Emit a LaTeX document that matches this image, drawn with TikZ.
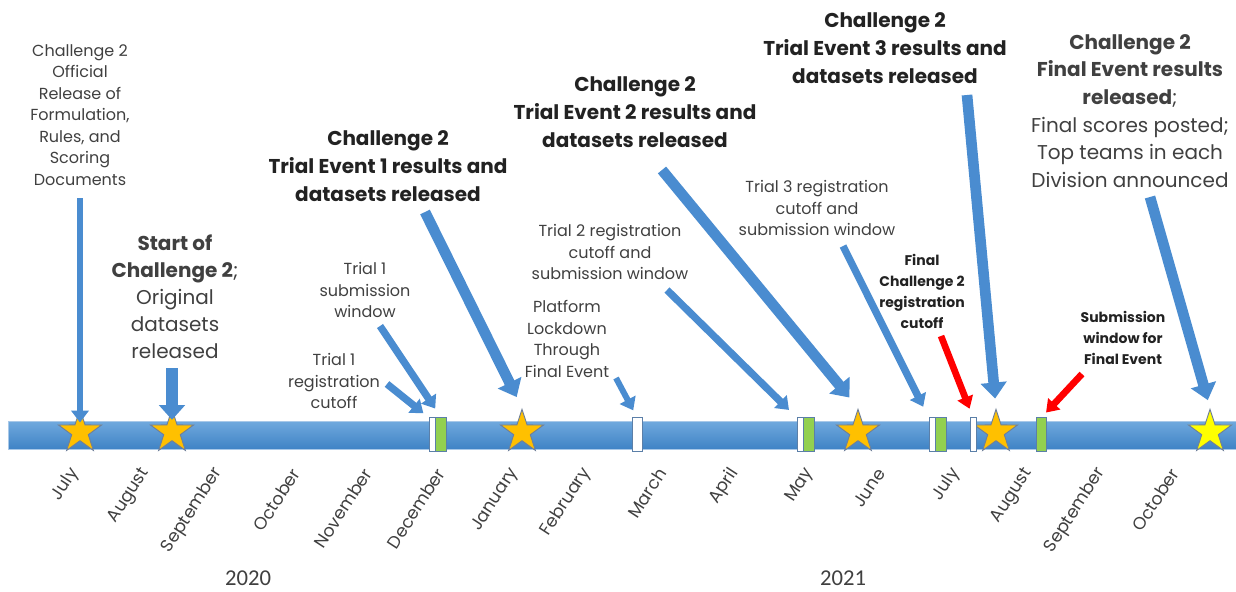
\documentclass[tikz,border=0pt]{standalone}
\usepackage{fontspec}
\setmainfont{Poppins}
\newfontfamily\yearfont{Carlito}
\usepackage{tikz}
\usetikzlibrary{arrows.meta, shapes.geometric}
\usetikzlibrary{positioning}
\definecolor{bar_top}{HTML}{70A9DE}
\definecolor{bar_bottom}{HTML}{3F83C5}
\definecolor{bar_edge}{HTML}{A8C8E8}
\definecolor{arrow_blue}{HTML}{4A8CD0}
\definecolor{arrow_red}{HTML}{FF0000}
\definecolor{star_orange}{HTML}{FFC000}
\definecolor{star_yellow}{HTML}{FFFF00}
\definecolor{star_edge}{HTML}{6E7F9A}
\definecolor{mark_green}{HTML}{92D050}
\definecolor{mark_edge}{HTML}{5B7FA8}
\definecolor{text_gray}{HTML}{404040}
\definecolor{text_dark}{HTML}{222222}
\tikzstyle{gold_star} = [
    star,
    star points=5,
    star point ratio=2.6,
    draw=star_edge,
    fill=star_orange,
    line width=0.7pt,
    inner sep=0pt,
    minimum size=34pt
]
\tikzstyle{yellow_star} = [
    gold_star,
    fill=star_yellow
]
\tikzstyle{white_mark} = [
    rectangle,
    draw=mark_edge,
    fill=white,
    line width=0.6pt,
    inner sep=0pt,
    minimum width=4.5pt,
    minimum height=25pt
]
\tikzstyle{green_mark} = [
    white_mark,
    fill=mark_green,
    minimum width=8pt
]
\tikzstyle{note} = [
    align=center,
    text=text_gray,
    inner sep=0pt,
    font=\fontsize{12}{16.1}\selectfont
]
\tikzstyle{headline} = [
    align=center,
    text=text_dark,
    inner sep=0pt,
    font=\fontsize{15}{21}\selectfont\bfseries
]
\tikzstyle{small_bold} = [
    align=center,
    text=text_dark,
    inner sep=0pt,
    font=\fontsize{10.5}{15.75}\selectfont\bfseries
]
\tikzstyle{month} = [
    text=text_gray,
    inner sep=0pt,
    anchor=east,
    rotate=57,
    font=\fontsize{13}{13}\selectfont
]
\tikzstyle{year_label} = [
    text=text_gray,
    inner sep=0pt,
    font=\yearfont\fontsize{17}{18}\selectfont
]
\tikzstyle{big_arrow} = [
    draw=arrow_blue,
    line width=8pt,
    -{Triangle[width=19pt, length=12pt]}
]
\tikzstyle{thin_arrow} = [
    draw=arrow_blue,
    line width=5.5pt,
    -{Triangle[width=13pt, length=9pt]}
]
\tikzstyle{red_arrow} = [
    draw=arrow_red,
    line width=5pt,
    -{Triangle[width=12pt, length=9pt]}
]
\begin{document}
\begin{tikzpicture}[x=0.75pt, y=-0.75pt]
\useasboundingbox (0,0) rectangle (1236,592);

% timeline bar
\shade[top color=bar_top, bottom color=bar_bottom, draw=bar_edge, line width=0.5pt]
    (8,421) rectangle (1236,449);

% stars
\node [gold_star] (s1) at (80,432) {};
\node [gold_star] (s2) at (172,432) {};
\node [gold_star] (s3) at (522,432) {};
\node [gold_star] (s4) at (858,432) {};
\node [gold_star] (s5) at (996,432) {};
\node [yellow_star] (s6) at (1210,432) {};

% registration / submission marks
\node [white_mark] (w1) at (432,434.5) {};
\node [green_mark, right=0pt of w1] (g1) {};
\node [white_mark, minimum width=7.5pt] (w3) at (637,434.5) {};
\node [white_mark] (w2) at (800,434.5) {};
\node [green_mark, right=0pt of w2] (g2) {};
\node [white_mark] (w4) at (932,434.5) {};
\node [green_mark, right=0pt of w4] (g3) {};
\node [white_mark] (w5) at (973,434.5) {};
\node [green_mark] (g4) at (1041.5,434.5) {};

% months
\foreach \m/\x [count=\i] in {July/75, August/146, September/219, October/296,
    November/368, December/441, January/515, February/587, March/662,
    April/735, May/810, June/881, July/956, August/1029, September/1102,
    October/1175}
    \node [month] (m\i) at (\x,470) {\m};

\node [year_label] (y2020) at (248,578) {2020};
\node [year_label] (y2021) at (843,578) {2021};

% event texts
\node [note] (official) at (80,115)
    {Challenge 2\\Official\\Release of\\Formulation,\\Rules, and\\Scoring\\Documents};
\node [note, font=\fontsize{15}{20.25}\selectfont] (start) at (175,297)
    {\textbf{Start of}\\\textbf{Challenge 2};\\Original\\datasets\\released};
\node [headline] (te1) at (388,166)
    {Challenge 2\\Trial Event 1 results and\\datasets released};
\node [note] (t1sub) at (365,290) {Trial 1\\submission\\window};
\node [note] (t1reg) at (334,381) {Trial 1\\registration\\cutoff};
\node [headline] (te2) at (635,112)
    {Challenge 2\\Trial Event 2 results and\\datasets released};
\node [note] (t2reg) at (610,252)
    {Trial 2 registration\\cutoff and\\submission window};
\node [note] (lock) at (567,339) {Platform\\Lockdown\\Through\\Final Event};
\node [note] (t3reg) at (817,208)
    {Trial 3 registration\\cutoff and\\submission window};
\node [headline] (te3) at (885,48)
    {Challenge 2\\Trial Event 3 results and\\datasets released};
\node [small_bold] (finreg) at (922,291)
    {Final\\Challenge 2\\registration\\cutoff};
\node [note, font=\fontsize{15}{20.7}\selectfont] (final) at (1130,111)
    {\textbf{Challenge 2}\\\textbf{Final Event results}\\\textbf{released};\\
     Final scores posted;\\Top teams in each\\Division announced};
\node [small_bold] (finsub) at (1123,338)
    {Submission\\window for\\Final Event};

% arrow tails
\coordinate (a_official) at (80,198);
\coordinate (a_start) at (172,368);
\coordinate (a_te1) at (425,212);
\coordinate (a_t1sub) at (380,326);
\coordinate (a_t1reg) at (387,384);
\coordinate (a_te2) at (662,170);
\coordinate (a_t2reg) at (667,290);
\coordinate (a_lock) at (616,378);
\coordinate (a_t3reg) at (843,246);
\coordinate (a_te3) at (967,95);
\coordinate (a_final) at (1150,197);
\coordinate (a_finreg) at (941,336);
\coordinate (a_finsub) at (1082,374);

% arrows
\draw [thin_arrow, line width=5pt] (a_official) -- ([yshift=-11]s1.north);
\draw [big_arrow, line width=9pt, -{Triangle[width=19pt, length=11pt]}]
    (a_start) -- ([yshift=-9]s2.north);
\draw [big_arrow, shorten >=9pt] (a_te1) -- (s3.north);
\draw [thin_arrow, shorten >=8pt] (a_t1sub) -- (g1.north);
\draw [thin_arrow, shorten >=5pt] (a_t1reg) -- (w1.north west);
\draw [big_arrow, shorten >=10pt] (a_te2) -- (s4.north);
\draw [thin_arrow, shorten >=8pt] (a_t2reg) -- (w2.north west);
\draw [thin_arrow, line width=4.5pt, shorten >=6pt] (a_lock) -- (w3.north);
\draw [thin_arrow, shorten >=9pt] (a_t3reg) -- (w4.north west);
\draw [big_arrow, shorten >=7pt] (a_te3) -- (s5.north);
\draw [big_arrow, shorten >=6pt] (a_final) -- (s6.north);
\draw [red_arrow, shorten >=7pt] (a_finreg) -- (w5.north);
\draw [red_arrow, shorten >=5pt] (a_finsub) -- (g4.north);
\end{tikzpicture}
\end{document}
